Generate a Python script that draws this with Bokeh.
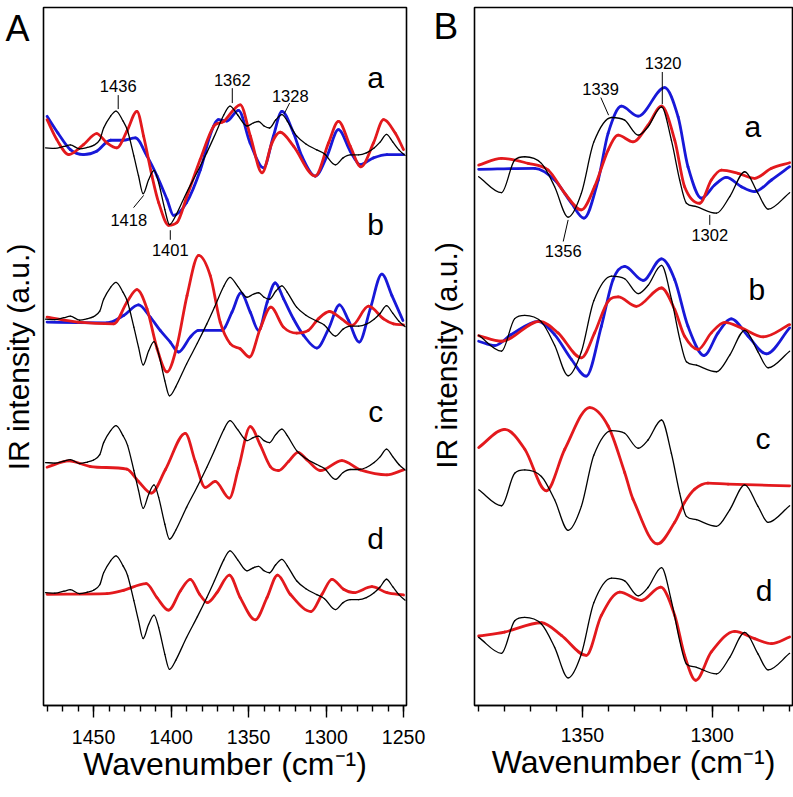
import math
from bokeh.plotting import figure
from bokeh.layouts import row
from bokeh.models import Range1d, Label, FixedTicker
from bokeh.embed import file_html
from bokeh.resources import INLINE

# ---------------- Panel A data (wavenumber, IR intensity a.u.) ----------------
A_black_wn = [1481,1475,1469,1465,1459,1454,1450,1446,1443.5,1439,1435.5,1431,1428,1424,1421,1418,1414.5,1411,1408,1404,1401,1397,1390,1383,1377,1372,1366,1362,1357,1351,1347,1343.5,1340,1336.5,1332.5,1328.5,1325,1319,1313,1306,1301,1294,1289,1284.4,1279,1274,1269,1265,1261,1257,1253,1249]
A_black_int = [0,-0.5,1.5,3,-1,0.5,2.5,8,20,32,37,27,17,-8,-28,-46,-32,-22.5,-35,-62,-77,-68,-45,-24,-5,12,33,42,33,22,25,26.5,22,20,28,33.5,27,12,4,-2,-6,-17,-10,-7,-7,-5,0,6,13.5,6,-2,-7.5]

A_blue_a_wn = [1480,1473,1465,1456.5,1448,1439,1431,1423,1415.5,1409,1402.6,1398.4,1390,1381,1375,1369.4,1364,1356.5,1349,1340.3,1334,1328.5,1321,1315.6,1307,1299.4,1292,1284.4,1278,1269.4,1260.7,1250]
A_blue_a_int = [31.7,15,-1.7,-6.7,-3.3,7.7,7.7,10,-8.3,-28.3,-51.7,-67.7,-55,-21.7,11.7,28.3,27,37.7,5,-20,11.7,36.7,15,-8.3,-28.3,-8.3,18.3,-3.3,-16.7,-10,-6.7,-6.7]

A_red_a_wn = [1480,1473.7,1466,1456.5,1448,1441.4,1435,1428.5,1422,1417.7,1412.3,1408,1401.6,1396.2,1389.7,1381.2,1372.5,1366,1355.3,1348.8,1341.3,1334.9,1329.6,1321,1307,1298.4,1292,1284.4,1277.5,1269.4,1262.9,1255.4,1250]
A_red_a_int = [28.3,8.3,-6.7,3.3,14.3,5,0,16.7,36.7,11.7,-28.3,-55,-77.7,-75,-48.3,-11.7,21.7,26.7,43.3,11.7,-25,5,15.7,1.7,-28.3,5,26.7,1.7,-19,5,28.3,15,-1.7]

A_blue_b_wn = [1480,1460,1441.4,1430.6,1421,1413.4,1407,1400.5,1395.2,1387.6,1382.3,1367.2,1360.7,1354.9,1348.9,1343.5,1338,1332.8,1327.4,1321,1314.5,1305.9,1298.4,1291.3,1285.5,1278.6,1271.5,1264,1257.5,1250.4]
A_blue_b_int = [-3,-3.5,-3.7,3.7,14.3,2,-11.3,-23,-33,-18,-11.3,-11.3,7,26.3,7,-11.3,17,36.3,20.3,0.3,-16.3,-29,-9.7,14.3,-1.3,-23,10.3,45.3,23.7,-1.3]

A_red_b_wn = [1480,1460,1437,1428.5,1422,1415.5,1409,1402.6,1396.1,1389.7,1382.2,1374.7,1368.3,1361.8,1355.4,1349.4,1342.5,1335.6,1327.5,1318.9,1311.4,1305,1297.8,1290,1283.3,1272.6,1262.9,1256.5,1250]
A_red_b_int = [2,-3,-4.7,17,29.7,10.3,-29.7,-53,-26.3,23.7,64,43.7,-3,-24.7,-29.7,-38,-9.7,12,-8,-14,-11.3,0.3,7.7,0.3,-6.3,13,0.3,-4.7,-5.7]

A_red_c_wn = [1480,1466,1452,1428.5,1421,1412.8,1403.7,1390.8,1384.4,1378,1371.5,1362.4,1356.5,1348.9,1342.5,1336,1330.7,1324.2,1318.1,1312.3,1303.7,1289.8,1277.9,1260.7,1250]
A_red_c_int = [-4.7,1.7,-4,-6.7,-19,-30.7,-7.3,29.3,1,-25,-19,-35.7,-5.7,36,17.7,-4,-8,1,10.3,2.7,-8,2,-7.3,-12.3,-7.3]

A_red_d_wn = [1480,1441.4,1430.6,1416,1409.1,1401.6,1394,1387.6,1381.6,1376.5,1370.4,1362.4,1355.4,1345.7,1338.1,1331.3,1323.1,1309.7,1302.6,1296.2,1288.7,1282.2,1270.4,1260.7,1250]
A_red_d_int = [-1.6,-1,2.4,9,-5,-17.6,1.7,13.4,-1.6,-10,0,17.7,-5,-27.3,-5,17.7,-1.6,-19,-1.6,13.4,3.4,0,6,0,-2.3]

# ---------------- Panel B data ----------------
B_black_wn = [1390,1381.2,1376.1,1372.2,1365.8,1360.7,1355.5,1350.4,1345.6,1338.8,1333.7,1328.5,1324.7,1319.5,1315.7,1312.5,1309.9,1306,1298.3,1293.2,1287.4,1282.3,1278.4,1270.1]
B_black_int = [-6.7,-22.7,10,13.3,6.7,-16.7,-47.3,-23.3,28,52.7,50,35,43.3,63.3,30,-10,-33.3,-36.7,-43.3,-26.7,-1.7,-23.3,-39.3,-22.7]

B_blue_a_wn = [1390,1368.4,1360.7,1354.2,1349.4,1343.9,1340.1,1335,1328.5,1318.3,1313.1,1309.3,1304.1,1299,1294.5,1288.7,1283.6,1277.1,1270.1]
B_blue_a_int = [0.7,1.7,-10,-33.3,-48.3,-10,36.7,64,54,82.7,53.3,3.3,-28.3,-15,-7.3,-16.7,-21.7,-10,3.3]

B_red_a_wn = [1390,1381.2,1370.9,1363.2,1356.8,1350.4,1345.3,1340.1,1336.2,1330.5,1324.7,1319.5,1314.4,1310.6,1304.8,1300.3,1296.4,1290,1283.6,1277.1,1270.1]
B_red_a_int = [5,11.7,6.7,0,-23.3,-40,-16.7,20,35,28.3,45,64,30,-16.7,-33.3,-10,0,-3.3,-8.3,1.7,7.3]

B_blue_b_wn = [1390,1383.8,1377.4,1367.1,1360.7,1354.2,1348.5,1342.7,1338.2,1333.7,1326.6,1319.5,1314.4,1309.3,1303.1,1297.7,1292.6,1286.1,1279.1,1270.1]
B_blue_b_int = [-12.7,-17,-6,7.3,-6,-31,-47.7,2.3,49,62.3,48.3,70,49,2.3,-27,-4.3,9.7,-7.7,-25.3,0.7]

B_red_b_wn = [1390,1381.2,1366.5,1359.4,1350.4,1345.3,1340.1,1336.2,1329.2,1319.5,1314.4,1310.6,1305.4,1300.3,1295.1,1288.7,1280.3,1270.1]
B_red_b_int = [-7,-12.7,7.3,-4.3,-29.3,-4.3,27.3,31.7,22.3,40.7,19,-7.7,-21,-4.3,6.3,0.7,-8.3,4]

B_red_c_wn = [1390,1380,1372.2,1363.9,1356.8,1347.2,1340.1,1333.7,1330.5,1321.1,1314.4,1310.6,1306.7,1301.6,1293.8,1270.1]
B_red_c_int = [35.7,54,34,-7.7,34,75.7,57.3,10.7,-16,-61,-39.3,-19.3,-6,0,-1,-2.7]

B_red_d_wn = [1390,1380,1365.8,1358.1,1348.5,1342.7,1335.6,1327.3,1319.8,1314.4,1310.6,1306.3,1300.3,1291.3,1283.6,1277.1,1270.1]
B_red_d_int = [-5.3,-1.3,8,-4.7,-24.7,15.3,38.7,30.3,43.7,15.3,-24.7,-49.7,-21.3,-0.7,-8,-13,-6.3]

# vertical stacking offsets of the traces (a.u.)
A_offsets = {"a": 560, "b": 388, "c": 244, "d": 113.3}
B_offsets = {"a": 537, "b": 378, "c": 223, "d": 75}

A_ticks = [1450, 1400, 1350, 1300, 1250]
A_minor = list(range(1480, 1249, -10))
B_ticks = [1350, 1300]
B_minor = list(range(1390, 1269, -10))

RED = "#e3191d"
BLUE = "#1818d8"
BLACK = "#000000"
FONT = "Liberation Sans"
H = 797


def make_fig(width, xr, left, right, top, bottom, ticks, minor, standoff):
    p = figure(width=width, height=H, x_range=Range1d(*xr),
               y_range=Range1d(0, H - top - bottom),
               output_backend="svg", toolbar_location=None, y_axis_location=None,
               min_border_left=left, min_border_right=right, min_border_top=top,
               min_border_bottom=bottom)
    p.grid.visible = False
    p.outline_line_color = "black"
    p.outline_line_width = 1.6
    p.background_fill_color = "white"
    p.border_fill_color = "white"
    ax = p.xaxis[0]
    ax.ticker = FixedTicker(ticks=ticks, minor_ticks=minor)
    ax.axis_line_width = 1.6
    ax.major_tick_out = 12
    ax.major_tick_in = 0
    ax.minor_tick_out = 6
    ax.minor_tick_in = 0
    ax.major_tick_line_width = 1.4
    ax.minor_tick_line_width = 1.4
    ax.major_label_text_font = FONT
    ax.major_label_text_font_size = "19.5px"
    ax.major_label_text_color = "black"
    ax.major_label_standoff = standoff
    ax.axis_label = "Wavenumber (cm\u207b\u00b9)"
    ax.axis_label_text_font = FONT
    ax.axis_label_text_font_size = "32px"
    ax.axis_label_text_font_style = "normal"
    ax.axis_label_text_color = "black"
    ax.axis_label_standoff = -1
    return p


def side_fig(width, top, bottom):
    p = figure(width=width, height=H, x_range=Range1d(0, width),
               y_range=Range1d(0, H - top - bottom),
               output_backend="svg", toolbar_location=None, x_axis_location=None,
               y_axis_location=None, min_border_left=0, min_border_right=0,
               min_border_top=top, min_border_bottom=bottom)
    p.grid.visible = False
    p.outline_line_color = None
    p.background_fill_color = "white"
    p.border_fill_color = "white"
    return p


def lab(p, x, y, text, size, align="center", angle=0.0):
    # y (or x for rotated text) is the middle of the text box
    p.add_layout(Label(x=x, y=y, text=text, text_font=FONT, text_font_size=size,
                       text_align=align, text_baseline="middle", angle=angle,
                       text_color="black"))


def trace(p, wn, inten, off, color, lw):
    """Smooth curve through the read points (cubic Bezier pieces, slope 0 at extrema)."""
    xs = list(wn)
    ys = [v + off for v in inten]
    n = len(xs)
    m = []
    for i in range(n):
        if i == 0:
            m.append((ys[1] - ys[0]) / (xs[1] - xs[0]))
        elif i == n - 1:
            m.append((ys[-1] - ys[-2]) / (xs[-1] - xs[-2]))
        else:
            d0 = (ys[i] - ys[i - 1]) / (xs[i] - xs[i - 1])
            d1 = (ys[i + 1] - ys[i]) / (xs[i + 1] - xs[i])
            if d0 * d1 <= 0:
                m.append(0.0)
            else:
                c = (ys[i + 1] - ys[i - 1]) / (xs[i + 1] - xs[i - 1])
                lim = 3 * min(abs(d0), abs(d1))
                m.append(math.copysign(min(abs(c), lim), c))
    x0, y0, x1, y1, cx0, cy0, cx1, cy1 = [], [], [], [], [], [], [], []
    for i in range(n - 1):
        h = xs[i + 1] - xs[i]
        x0.append(xs[i]); y0.append(ys[i]); x1.append(xs[i + 1]); y1.append(ys[i + 1])
        cx0.append(xs[i] + h / 3); cy0.append(ys[i] + m[i] * h / 3)
        cx1.append(xs[i + 1] - h / 3); cy1.append(ys[i + 1] - m[i + 1] * h / 3)
    p.bezier(x0=x0, y0=y0, x1=x1, y1=y1, cx0=cx0, cy0=cy0, cx1=cx1, cy1=cy1,
             line_color=color, line_width=lw, line_cap="round")


# ---------------- side panels with panel letters and y labels ----------------
sa = side_fig(42, 4, 92)
lab(sa, 5, 680, "A", "36px", align="left")
lab(sa, 17.5, 350, "IR intensity (a.u.)", "30px", angle=math.pi / 2)

sb = side_fig(45, 7, 90)
lab(sb, 5, 681, "B", "37px", align="left")
lab(sb, 18, 351, "IR intensity (a.u.)", "30px", angle=math.pi / 2)

# ---------------- Figure A ----------------
pa = make_fig(386, (1482.3, 1248.1), 1, 22, 4, 92, A_ticks, A_minor, 12)
trace(pa, A_blue_a_wn, A_blue_a_int, A_offsets["a"], BLUE, 2.8)
trace(pa, A_red_a_wn, A_red_a_int, A_offsets["a"], RED, 2.8)
trace(pa, A_blue_b_wn, A_blue_b_int, A_offsets["b"], BLUE, 2.8)
trace(pa, A_red_b_wn, A_red_b_int, A_offsets["b"], RED, 2.8)
trace(pa, A_red_c_wn, A_red_c_int, A_offsets["c"], RED, 2.8)
trace(pa, A_red_d_wn, A_red_d_int, A_offsets["d"], RED, 2.8)
for k in "abcd":
    trace(pa, A_black_wn, A_black_int, A_offsets[k], BLACK, 1.3)

for k, y in zip("abcd", [630.4, 483.4, 295.4, 167.4]):
    lab(pa, 1268.0, y, k, "30px")
for x, y, t in [(1434.1, 621.7, "1436"), (1360.5, 628, "1362"), (1323.1, 611.7, "1328"),
                (1427.3, 488, "1418"), (1400.5, 457.4, "1401")]:
    lab(pa, x, y, t, "16.5px")
pa.segment(x0=[1434.1, 1360.5, 1323.5, 1424.2, 1400.5],
           y0=[613, 620, 605, 500, 477.3],
           x1=[1434.1, 1360.5, 1327.0, 1417.7, 1400.5],
           y1=[599, 605, 594.3, 512.3, 467.7], line_color="black", line_width=1)

# ---------------- Figure B ----------------
pb = make_fig(320, (1391.6, 1269.0), 1, 1, 7, 90, B_ticks, B_minor, 10)
trace(pb, B_blue_a_wn, B_blue_a_int, B_offsets["a"], BLUE, 2.8)
trace(pb, B_red_a_wn, B_red_a_int, B_offsets["a"], RED, 2.8)
trace(pb, B_blue_b_wn, B_blue_b_int, B_offsets["b"], BLUE, 2.8)
trace(pb, B_red_b_wn, B_red_b_int, B_offsets["b"], RED, 2.8)
trace(pb, B_red_c_wn, B_red_c_int, B_offsets["c"], RED, 2.8)
trace(pb, B_red_d_wn, B_red_d_int, B_offsets["d"], RED, 2.8)
for k in "abcd":
    trace(pb, B_black_wn, B_black_int, B_offsets[k], BLACK, 1.3)

for k, x, y in zip("abcd", [1284.3, 1282.7, 1280.4, 1280.0], [580.7, 417.4, 267.4, 115.7]):
    lab(pb, x, y, k, "30px")
for x, y, t in [(1318.9, 644.4, "1320"), (1343.0, 618.7, "1339"), (1357.4, 455.4, "1356"),
                (1300.9, 472, "1302")]:
    lab(pb, x, y, t, "16.5px")
pb.segment(x0=[1319.2, 1342.9, 1357.4, 1300.9],
           y0=[635.3, 609.7, 465.3, 492],
           x1=[1319.2, 1339.9, 1355.5, 1300.9],
           y1=[603, 592, 487, 482], line_color="black", line_width=1)

layout = row(sa, pa, sb, pb)
open("out.html", "w").write(file_html(layout, INLINE))
